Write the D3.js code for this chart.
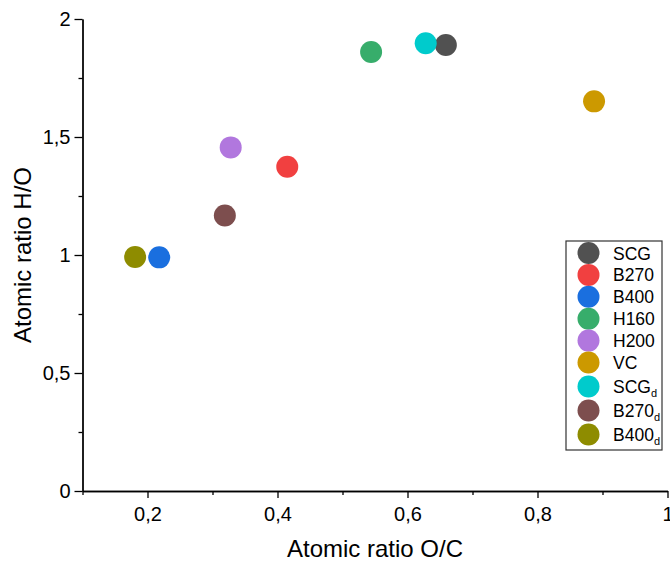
<!DOCTYPE html>
<html>
<head>
<meta charset="utf-8">
<script src="https://cdn.jsdelivr.net/npm/d3@7"></script>
<style>
    body { margin: 0; background: #fff; }
    text { font-family: "Liberation Sans", Arial, sans-serif; fill: #000; }
    .axis path, .axis line { stroke: #000; stroke-width: 1.3; }
</style>
</head>
<body>
<script>
// sample names (a trailing "_d" is drawn as a subscript)
var samples = ["SCG", "B270", "B400", "H160", "H200", "VC", "SCG_d", "B270_d", "B400_d"];

// atomic ratios
var ocRatio = [0.659, 0.415, 0.218, 0.544, 0.328, 0.887, 0.628, 0.319, 0.181];
var hoRatio = [1.890, 1.374, 0.990, 1.860, 1.456, 1.651, 1.897, 1.167, 0.992];

// Origin colour series
var colors = ["#515151", "#F14040", "#1A6FDF", "#37AD6B", "#B177DE", "#CC9900", "#00CBCC", "#7D4E4E", "#8E8C00"];

// ticks
var xTicks = [0.2, 0.4, 0.6, 0.8, 1];
var xMinor = [0.1, 0.3, 0.5, 0.7, 0.9];
var yTicks = [0, 0.5, 1, 1.5, 2];
var yMinor = [0.25, 0.75, 1.25, 1.75];

window.onload = function(){

    var w = 670, h = 562;

    var svg = d3.select("body")
        .append("svg")
        .attr("width", w)
        .attr("height", h);

    // scales
    var x = d3.scaleLinear()
        .domain([0.1, 1])
        .range([82.5, 667.5]);

    var y = d3.scaleLinear()
        .domain([0, 2])
        .range([491, 19]);

    // decimal comma
    var fmt = d3.formatLocale({decimal: ",", thousands: ".", grouping: [3], currency: ["", ""]}).format("~g");

    // minor ticks first, then major axes on top
    svg.append("g")
        .attr("class", "axis")
        .attr("transform", "translate(0," + y(0) + ")")
        .call(d3.axisBottom(x).tickValues(xMinor).tickSize(4).tickSizeOuter(0).tickFormat(""));

    svg.append("g")
        .attr("class", "axis")
        .attr("transform", "translate(" + x(0.1) + ",0)")
        .call(d3.axisLeft(y).tickValues(yMinor).tickSize(4).tickSizeOuter(0).tickFormat(""));

    var xAxis = svg.append("g")
        .attr("class", "axis")
        .attr("transform", "translate(0," + y(0) + ")")
        .call(d3.axisBottom(x).tickValues(xTicks).tickSize(7).tickSizeOuter(0).tickPadding(9).tickFormat(fmt));
    xAxis.selectAll("text").style("font-size", "20px");

    var yAxis = svg.append("g")
        .attr("class", "axis")
        .attr("transform", "translate(" + x(0.1) + ",0)")
        .call(d3.axisLeft(y).tickValues(yTicks).tickSize(8).tickSizeOuter(0).tickPadding(4).tickFormat(fmt));
    yAxis.selectAll("text").style("font-size", "20px");

    // axis titles
    svg.append("text")
        .attr("text-anchor", "middle")
        .attr("x", (x.range()[0] + x.range()[1]) / 2)
        .attr("y", 557)
        .style("font-size", "24px")
        .text("Atomic ratio O/C");

    svg.append("text")
        .attr("text-anchor", "middle")
        .attr("transform", "translate(31," + ((y.range()[0] + y.range()[1]) / 2) + ") rotate(-90)")
        .style("font-size", "24px")
        .text("Atomic ratio H/O");

    // points
    svg.selectAll(".dot")
        .data(samples)
        .enter()
        .append("circle")
        .attr("class", "dot")
        .attr("cx", function(d, i){ return x(ocRatio[i]); })
        .attr("cy", function(d, i){ return y(hoRatio[i]); })
        .attr("r", 11)
        .style("fill", function(d, i){ return colors[i]; });

    // legend
    var legend = svg.append("g")
        .attr("transform", "translate(566,241)");

    legend.append("rect")
        .attr("width", 96)
        .attr("height", 209)
        .style("fill", "#fff")
        .style("stroke", "#333")
        .style("stroke-width", 1.2);

    var rowY = [];
    var cy = 12;
    samples.forEach(function(s, i){
        if (i > 0) cy += (s.indexOf("_") > 0) ? 24 : 21.9;
        rowY.push(cy);
    });

    var rows = legend.selectAll(".row")
        .data(samples)
        .enter()
        .append("g")
        .attr("class", "row")
        .attr("transform", function(d, i){ return "translate(0," + rowY[i] + ")"; });

    rows.append("circle")
        .attr("cx", 22.5)
        .attr("r", 11)
        .style("fill", function(d, i){ return colors[i]; });

    var labels = rows.append("text")
        .attr("x", 47)
        .attr("y", 6.5)
        .style("font-size", "17.5px");

    labels.append("tspan")
        .text(function(d){ return d.split("_")[0]; });

    labels.filter(function(d){ return d.indexOf("_") > 0; })
        .append("tspan")
        .attr("dy", 4)
        .style("font-size", "11px")
        .text(function(d){ return d.split("_")[1]; });
};
</script>
</body>
</html>
